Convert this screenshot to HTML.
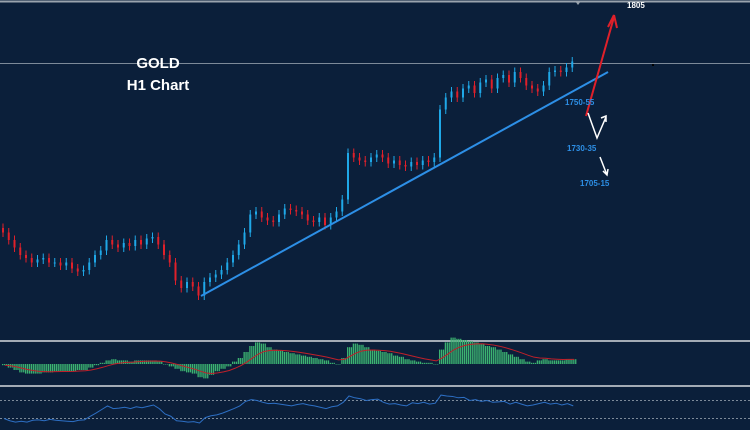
<!DOCTYPE html>
<html><head><meta charset="utf-8"><style>
html,body{margin:0;padding:0;background:#0b1f3a;}
svg{display:block;font-family:"Liberation Sans",sans-serif;}
</style></head><body>
<svg id="c" width="750" height="430" viewBox="0 0 750 430">
<rect x="0" y="0" width="750" height="430" fill="#0b1f3a"/>
<line x1="0" y1="1.5" x2="750" y2="1.5" stroke="#9aa3ad" stroke-width="2"/>
<path d="M575 1 L581 1 L578 5 Z" fill="#9aa3ad"/>
<line x1="0" y1="63.5" x2="750" y2="63.5" stroke="#7d8a99" stroke-width="1"/>
<rect x="652" y="64" width="2" height="2" fill="#000"/>
<text x="158" y="68" fill="#fff" font-size="15" font-weight="bold" text-anchor="middle">GOLD</text>
<text x="158" y="90" fill="#fff" font-size="15" font-weight="bold" text-anchor="middle">H1 Chart</text>
<g id="candles"></g>
<line x1="201" y1="296" x2="608" y2="72" stroke="#2d8fe6" stroke-width="2"/>
<g>
<line x1="586" y1="116" x2="614" y2="17" stroke="#e0202a" stroke-width="2"/>
<path d="M614 15 L608 27 M614 15 L617 28" stroke="#e0202a" stroke-width="2" fill="none"/>
</g>
<text x="627" y="8" fill="#fff" font-size="8" font-weight="bold">1805</text>
<text x="565" y="105" fill="#2d8fe6" font-size="8" font-weight="bold">1750-55</text>
<path d="M588 113 L597 138 L606 117 M601 118 L606 116 L606 122" stroke="#fff" stroke-width="1.5" fill="none"/>
<text x="567" y="151" fill="#2d8fe6" font-size="8" font-weight="bold">1730-35</text>
<path d="M600 157 L607 175 M603 171 L607 175 L608 169" stroke="#fff" stroke-width="1.5" fill="none"/>
<text x="580" y="186" fill="#2d8fe6" font-size="8" font-weight="bold">1705-15</text>
<line x1="0" y1="341" x2="750" y2="341" stroke="#a3abb5" stroke-width="2"/>
<g id="macd"></g>
<line x1="0" y1="386" x2="750" y2="386" stroke="#a3abb5" stroke-width="2"/>
<line x1="0" y1="400.5" x2="750" y2="400.5" stroke="#7d8a99" stroke-dasharray="2,2"/>
<line x1="0" y1="418.5" x2="750" y2="418.5" stroke="#7d8a99" stroke-dasharray="2,2"/>
<g id="rsi"></g>
</svg>
<script>
const closes=[1677,1672,1667,1662,1660,1657,1659,1660,1657,1657,1655,1657,1653,1651,1652,1657,1662,1665,1672,1669,1667,1670,1668,1672,1669,1673,1674,1669,1662,1657,1645,1640,1644,1641,1635,1644,1647,1649,1652,1657,1662,1669,1677,1689,1691,1687,1685,1684,1689,1693,1692,1691,1689,1685,1684,1687,1682,1687,1691,1699,1730,1727,1725,1724,1727,1729,1727,1723,1725,1722,1721,1724,1722,1725,1724,1727,1759,1767,1771,1767,1773,1775,1770,1777,1779,1773,1780,1782,1777,1784,1780,1775,1773,1771,1775,1784,1785,1784,1787,1791];
const macdHist=[-1,-3,-5,-7,-8,-8,-8,-7,-7,-6,-6,-6,-6,-5,-5,-3,-1,1,3,4,3,3,2,3,3,3,3,2,0,-2,-4,-6,-7,-8,-11,-12,-9,-6,-4,-2,2,5,10,15,18,17,14,12,11,10,9,8,7,6,5,4,3,1,0,5,14,17,16,14,12,11,10,9,7,6,4,3,2,1,1,0,12,18,22,21,20,19,18,17,15,14,12,10,8,6,4,2,1,3,4,3,3,3,4,4];
const rsiVals=[30,25,22,24,22,26,27,25,28,26,25,24,23,26,27,35,42,50,58,52,53,55,52,56,54,57,60,52,40,35,25,24,22,23,20,32,36,38,42,47,52,58,68,72,70,66,63,64,62,60,58,61,63,60,58,55,52,56,58,66,80,76,74,70,72,73,66,62,63,60,58,65,63,66,62,64,82,80,79,76,77,70,72,68,70,66,67,68,62,66,62,58,60,63,66,62,64,60,63,58];
const N=closes.length;
const xAt=i=>2+i*5.75;
const yP=p=>63+(1790-p)*1.5;
const NS="http://www.w3.org/2000/svg";
function mk(tag,attrs,parent){const e=document.createElementNS(NS,tag);for(const k in attrs)e.setAttribute(k,attrs[k]);parent.appendChild(e);return e;}
const cg=document.getElementById('candles');
for(let i=0;i<N;i++){
  const o=i?closes[i-1]:closes[0]+3, c=closes[i];
  const up=c>=o, col=up?'#1fa8e8':'#e0202a';
  const hi=Math.max(o,c)+3, lo=Math.min(o,c)-3;
  const x=xAt(i);
  const w=mk('line',{x1:x+1,x2:x+1,y1:yP(hi),y2:yP(lo),stroke:col,'stroke-width':1},cg);
  
  
  const b=mk('rect',{x:x,y:Math.min(yP(o),yP(c)),width:2,height:Math.max(1,Math.abs(yP(o)-yP(c))),fill:col},cg);
  
  
}
const mg=document.getElementById('macd');
const z=364, mY=v=>z-v*1.2;
for(let i=0;i<N;i++){
  const x=xAt(i);
  for(let k=0;k<3;k++){
    const r=mk('rect',{x:x+k*1.92,y:Math.min(z,mY(macdHist[i])),width:1.3,height:Math.max(0.5,Math.abs(mY(macdHist[i])-z)),fill:'#3cb371'},mg);
    
    
  }
}
let sig=[],s=macdHist[0];
for(let i=0;i<N;i++){s=s+(macdHist[i]-s)*0.25;sig.push(s);}
const sp=mk('polyline',{points:sig.map((v,i)=>(xAt(i)+3)+','+mY(v)).join(' '),fill:'none',stroke:'#c0202a','stroke-width':1},mg);


const rg=document.getElementById('rsi');
const rY=v=>418.5-(v-30)*0.45;
const rp=mk('polyline',{points:rsiVals.map((v,i)=>(xAt(i)+2)+','+rY(v)).join(' '),fill:'none',stroke:'#2d6fc4','stroke-width':1},rg);


</script>
</body></html>
